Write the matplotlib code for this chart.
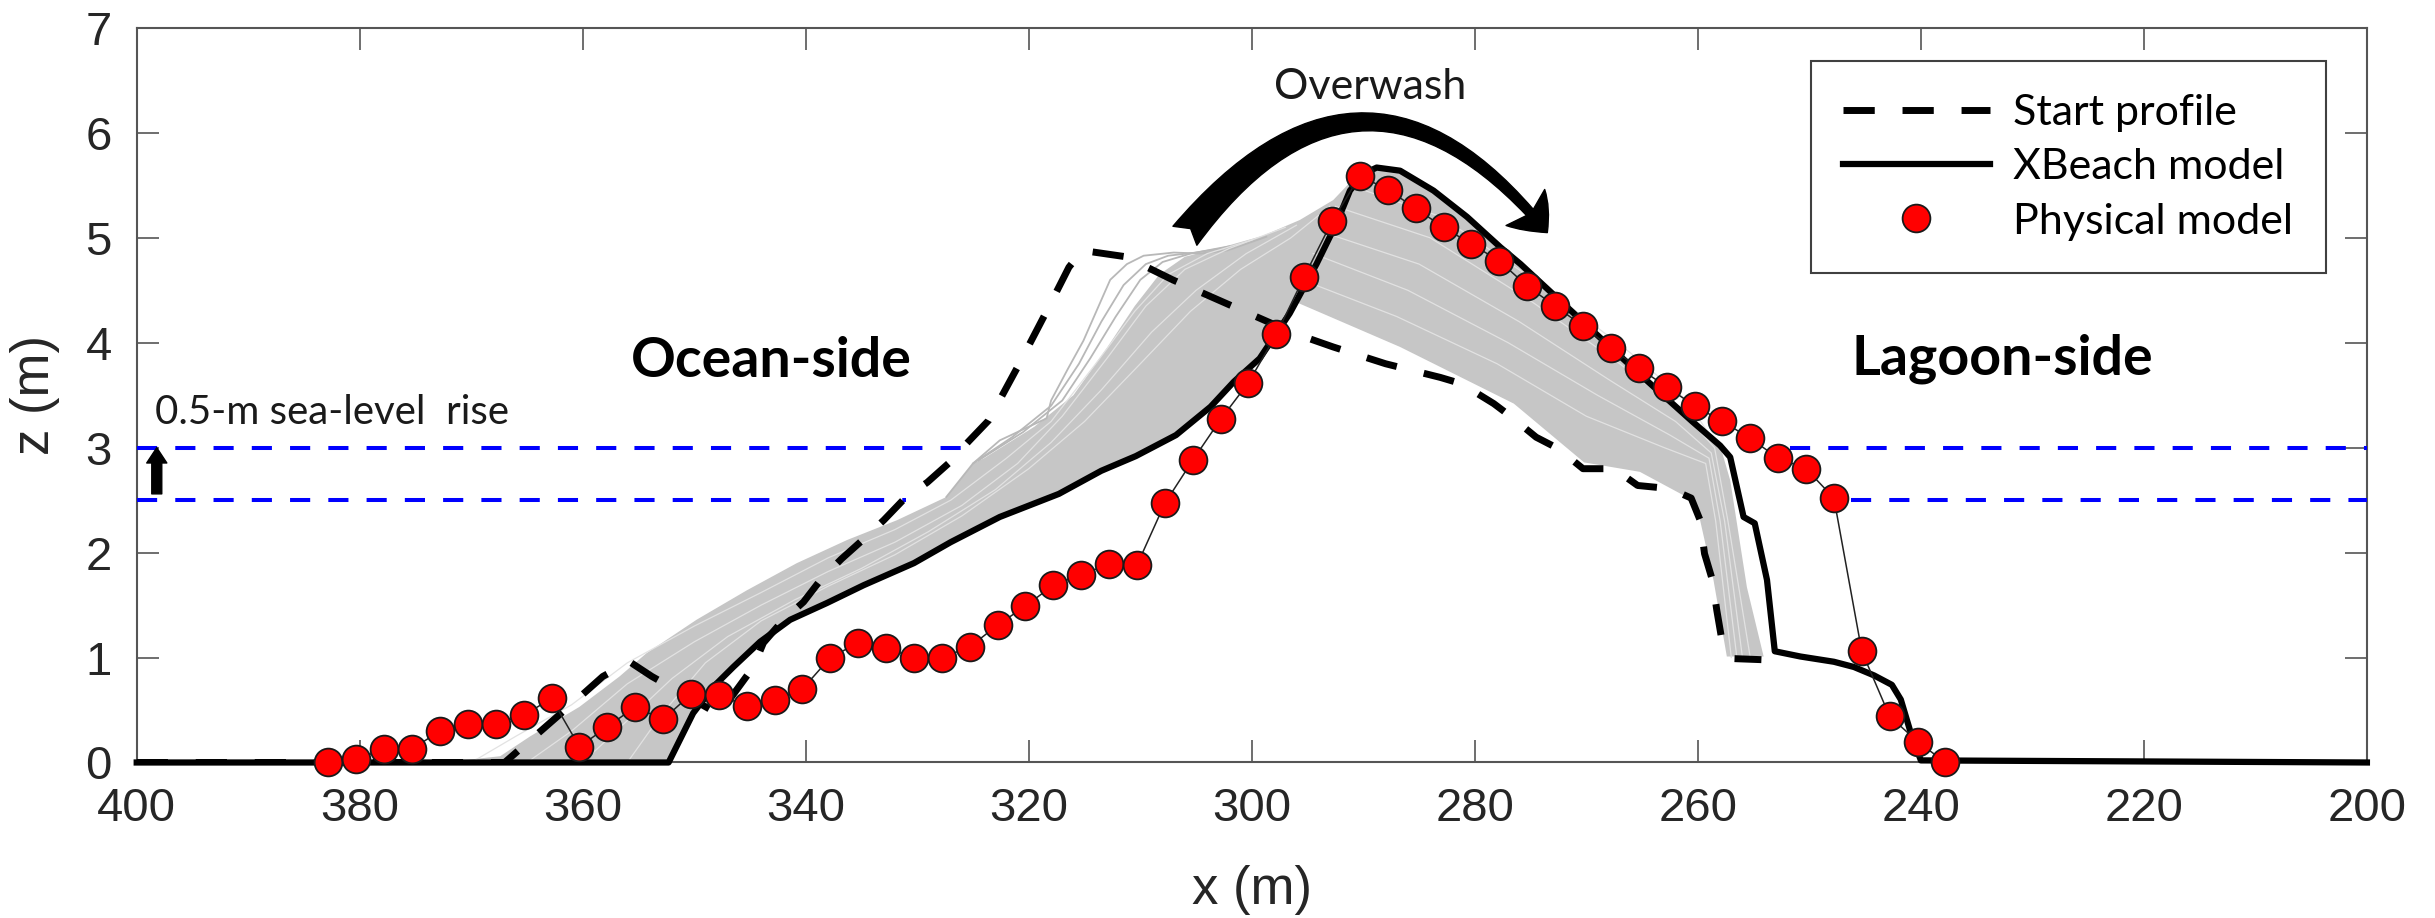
import numpy as np
import matplotlib
matplotlib.use("Agg")
import matplotlib.pyplot as plt
from matplotlib.patches import FancyArrowPatch

# ---- data ----
# start profile (dashed)
start_x = [400, 367.0, 360.1, 358.2, 355.8, 353.8, 347.8, 344.7, 343.8, 342.0, 340.2, 338.6,
           336.8, 334.8, 333.0, 331.1, 329.1, 327.2, 325.4, 323.6, 321.0, 318.5, 316.4, 315.2,
           311.3, 307.1, 302.4, 296.2, 292.7, 288.0, 283.1, 281.2, 278.3, 276.8, 274.5, 272.5,
           270.3, 267.5, 265.4, 262.5, 260.6, 259.8, 259.4, 258.7, 258.3, 257.9, 256.8, 254.3]
start_z = [0, 0, 0.64, 0.82, 0.96, 0.82, 0.46, 0.91, 1.14, 1.36, 1.53, 1.75,
           1.94, 2.13, 2.31, 2.52, 2.67, 2.85, 3.06, 3.26, 3.77, 4.28, 4.72, 4.88,
           4.82, 4.60, 4.38, 4.09, 3.96, 3.80, 3.67, 3.61, 3.42, 3.30, 3.10, 2.99,
           2.80, 2.80, 2.64, 2.61, 2.52, 2.31, 1.99, 1.74, 1.45, 1.20, 0.99, 0.98]

# XBeach final profile
xb_x = [400, 352.3, 350.1, 348.3, 346.5, 344.1, 341.4, 338.1, 334.8, 330.3, 327.0, 322.6,
        317.3, 313.5, 310.4, 306.8, 303.7, 301.6, 299.3, 296.6, 294.2, 292.4, 291.2, 290.0,
        288.8, 286.7, 283.7, 280.7, 277.7, 275.9, 270.0, 265.0, 260.5, 258.0, 257.1, 255.9,
        254.9, 253.8, 253.1, 250.8, 247.8, 246.0, 244.2, 242.6, 241.8, 240.9, 240.0, 200]
xb_z = [0, 0, 0.47, 0.72, 0.91, 1.15, 1.36, 1.52, 1.69, 1.90, 2.10, 2.34,
        2.56, 2.78, 2.92, 3.12, 3.39, 3.63, 3.85, 4.28, 4.75, 5.14, 5.45, 5.61,
        5.67, 5.64, 5.45, 5.20, 4.91, 4.75, 4.17, 3.68, 3.25, 3.02, 2.91, 2.34,
        2.28, 1.74, 1.06, 1.01, 0.96, 0.91, 0.83, 0.74, 0.60, 0.28, 0.02, 0]

# physical model
phys_x = [382.8, 380.3, 377.8, 375.3, 372.8, 370.3, 367.8, 365.3, 362.8, 360.3, 357.8, 355.3,
          352.8, 350.3, 347.8, 345.3, 342.8, 340.3, 337.8, 335.3, 332.8, 330.3, 327.8, 325.3,
          322.8, 320.3, 317.8, 315.3, 312.8, 310.3, 307.8, 305.3, 302.8, 300.3, 297.8, 295.3,
          292.8, 290.3, 287.8, 285.3, 282.8, 280.3, 277.8, 275.3, 272.8, 270.3, 267.8, 265.3,
          262.8, 260.3, 257.8, 255.3, 252.8, 250.3, 247.8, 245.3, 242.8, 240.3, 237.8]
phys_z = [0.0, 0.03, 0.13, 0.13, 0.30, 0.37, 0.37, 0.45, 0.61, 0.15, 0.34, 0.53,
          0.41, 0.65, 0.64, 0.54, 0.60, 0.70, 1.00, 1.14, 1.09, 1.00, 1.00, 1.10,
          1.31, 1.49, 1.69, 1.79, 1.89, 1.88, 2.47, 2.88, 3.27, 3.62, 4.08, 4.63,
          5.16, 5.59, 5.46, 5.28, 5.10, 4.94, 4.78, 4.54, 4.35, 4.16, 3.95, 3.76,
          3.58, 3.40, 3.25, 3.09, 2.90, 2.80, 2.52, 1.06, 0.44, 0.20, 0.0]

# intermediate profiles: dense band outlines
ocean_band_x = [372.5, 367.4, 364.7, 360.3, 356.7, 354.3, 349.8, 345.3, 340.8, 336.3, 331.8,
                327.4, 325.0, 324.0, 319.5, 316.0, 313.0, 310.5, 308.3, 306.0, 303.0, 299.0,
                295.7, 292.7, 291.0, 290.0]
ocean_band_z = [0, 0.06, 0.25, 0.53, 0.82, 1.04, 1.36, 1.64, 1.90, 2.12, 2.31,
                2.53, 2.85, 2.90, 3.20, 3.50, 3.95, 4.35, 4.65, 4.82, 4.90, 5.02,
                5.17, 5.36, 5.55, 5.61]
lagoon_low_x = [296.3, 286.7, 276.5, 270.2, 265.2, 261.0, 259.8, 258.6, 257.4, 254.1, 255.6, 257.1]
lagoon_low_z = [4.40, 3.96, 3.42, 2.86, 2.77, 2.53, 2.31, 1.74, 1.01, 1.01, 1.67, 2.69]

# individual grey profiles (estimated)
grey_lines = [
    ([327.4, 325.0, 322.6, 318.4, 318.0, 316.5, 315.1, 312.7, 311.2, 309.7, 307.0, 304.6, 302.2, 298.7],
     [2.53, 2.85, 3.07, 3.28, 3.45, 3.75, 4.02, 4.60, 4.75, 4.83, 4.86, 4.85, 4.88, 5.01]),
    ([325.0, 321.5, 318.0, 315.5, 313.5, 311.5, 309.5, 307.5, 305.0, 301.5],
     [2.85, 3.10, 3.40, 3.80, 4.20, 4.55, 4.75, 4.83, 4.86, 4.92]),
    ([324.5, 320.5, 317.0, 314.5, 312.2, 310.0, 308.0, 305.5, 302.0],
     [2.88, 3.15, 3.45, 3.85, 4.25, 4.60, 4.77, 4.85, 4.92]),
]
streak_lines = [
    ([370, 366, 361, 356, 350, 344, 338, 332, 327, 322, 318, 314, 310.5, 307.5, 304, 300],
     [0, 0.25, 0.55, 0.95, 1.30, 1.62, 1.95, 2.22, 2.50, 2.90, 3.25, 3.80, 4.30, 4.65, 4.85, 4.98]),
    ([365, 361, 356, 350, 344, 338, 332, 326, 321, 317, 313, 309.5, 306, 302, 297],
     [0, 0.30, 0.75, 1.15, 1.50, 1.82, 2.10, 2.45, 2.85, 3.30, 3.85, 4.35, 4.70, 4.90, 5.10]),
    ([360, 356, 352, 347, 341, 335, 329, 323, 318, 313.5, 309, 305, 300.5, 296],
     [0, 0.40, 0.80, 1.20, 1.55, 1.85, 2.20, 2.60, 3.05, 3.55, 4.10, 4.50, 4.85, 5.12]),
    ([356, 353, 349, 344, 338, 332, 326, 320, 315, 310, 305.5, 301, 296.5, 293],
     [0, 0.45, 0.95, 1.35, 1.68, 1.98, 2.35, 2.80, 3.25, 3.80, 4.30, 4.70, 5.00, 5.30]),
    ([295.5, 287, 278, 270, 263, 259.3, 258.4, 257.0],
     [4.60, 4.25, 3.80, 3.30, 3.00, 2.85, 2.30, 1.00]),
    ([294.5, 286, 277, 269, 262.5, 259.0, 258.0, 256.5],
     [4.85, 4.50, 4.00, 3.50, 3.12, 2.90, 2.30, 1.00]),
    ([293.5, 285, 276, 268, 262, 258.8, 257.6, 256.0],
     [5.05, 4.75, 4.20, 3.65, 3.25, 2.95, 2.30, 1.00]),
    ([292.5, 284, 275, 267, 261.5, 258.5, 257.3, 255.3],
     [5.30, 5.00, 4.40, 3.80, 3.35, 3.00, 2.30, 1.00]),
    ([291.2, 283, 274, 266, 261, 258.3],
     [5.50, 5.20, 4.55, 3.90, 3.45, 3.02]),
]

# sea-level lines
slr_levels = [2.5, 3.0]
slr_ocean_end = [331.0, 325.8]
slr_lagoon_start = [246.3, 251.7]

xticks = list(range(400, 199, -20))
yticks = list(range(0, 8))

# ---- figure ----
fig = plt.figure(figsize=(24.35, 9.18), dpi=100)
ax = fig.add_axes([0.05614, 0.1694, 0.9159, 0.8001])

band_col = "#c6c6c6"
# ocean side band: upper envelope then back along XBeach
ob_x = list(ocean_band_x) + [x for x in xb_x[1:24]][::-1]
ob_z = list(ocean_band_z) + [z for z in xb_z[1:24]][::-1]
ax.fill(ob_x, ob_z, color=band_col, lw=0, zorder=1)
# lagoon side fan
lg_x = [x for x in xb_x[19:34]] + lagoon_low_x[::-1]
lg_z = [z for z in xb_z[19:34]] + lagoon_low_z[::-1]
ax.fill(lg_x, lg_z, color=band_col, lw=0, zorder=1)

for gx, gz in grey_lines:
    ax.plot(gx, gz, color="#b8b8b8", lw=1.3, zorder=2)
for gx, gz in streak_lines:
    ax.plot(gx, gz, color="#e2e2e2", lw=0.9, zorder=2)

# sea-level rise lines
for lev, oe, ls_ in zip(slr_levels, slr_ocean_end, slr_lagoon_start):
    ax.plot([400, oe], [lev, lev], color="#0000ff", lw=2.9, dashes=(5, 4.5), zorder=3)
    ax.plot([ls_, 200], [lev, lev], color="#0000ff", lw=2.9, dashes=(5, 4.5), zorder=3)

ax.plot(start_x, start_z, color="black", lw=5, dashes=(4.5, 4), zorder=4,
        label="Start profile")
ax.plot(xb_x, xb_z, color="black", lw=4.5, zorder=5, label="XBeach model",
        solid_joinstyle="round", clip_on=False)
ax.plot(phys_x, phys_z, color="#222222", lw=1.1, zorder=6)
ax.plot(phys_x, phys_z, ls="none", marker="o", ms=20, mfc="#ff0000", mec="#1a1a1a",
        mew=1.3, zorder=7, label="Physical model", clip_on=False)

# overwash arrow
ow = FancyArrowPatch((306.0, 5.02), (273.5, 5.05), connectionstyle="arc3,rad=-0.62",
                     arrowstyle="fancy,head_length=1.2,head_width=1.9,tail_width=1.1",
                     mutation_scale=20, color="black", shrinkA=0, shrinkB=0, zorder=8)
ax.add_patch(ow)
slr_arrow = FancyArrowPatch((398.2, 2.56), (398.2, 3.0),
                            arrowstyle="simple,head_length=1.1,head_width=1.45,tail_width=0.72",
                            mutation_scale=10, color="black", shrinkA=0, shrinkB=0, zorder=8)
ax.add_patch(slr_arrow)

ann_font = "Lato"
ax.text(289.4, 6.44, "Overwash", fontsize=31, family=ann_font, ha="center", va="center",
        color="#1a1a1a")
ax.text(398.4, 3.23, "0.5-m sea-level  rise", fontsize=29, family=ann_font, ha="left",
        va="baseline", color="#1a1a1a")
ax.text(343.1, 3.83, "Ocean-side", fontsize=40, family=ann_font, weight="bold",
        ha="center", va="center")
ax.text(232.7, 3.85, "Lagoon-side", fontsize=40, family=ann_font, weight="bold",
        ha="center", va="center")

ax.set_xlim(400, 200)
ax.set_ylim(0, 7)
ax.set_xticks(xticks)
ax.set_yticks(yticks)
ax.tick_params(direction="in", top=True, right=True, length=16, width=1.2,
               color="#555555", labelsize=34, labelcolor="#262626", pad=18)
for lab in ax.get_xticklabels() + ax.get_yticklabels():
    lab.set_family("Liberation Sans")
for sp in ax.spines.values():
    sp.set_color("#555555")
    sp.set_linewidth(1.5)
ax.set_xlabel("x (m)", fontsize=38, family="Liberation Sans", color="#262626", labelpad=24)
ax.set_ylabel("z (m)", fontsize=38, family="Liberation Sans", color="#262626", labelpad=18)

leg = ax.legend(loc="upper right", bbox_to_anchor=(0.9815, 0.9544), borderaxespad=0,
                fancybox=False, framealpha=1, edgecolor="#404040",
                prop={"family": ann_font, "size": 31}, handlelength=3.4,
                handletextpad=0.55, labelspacing=0.38, borderpad=0.75)
leg.get_frame().set_linewidth(1.5)

fig.savefig("out.png", dpi=100)
